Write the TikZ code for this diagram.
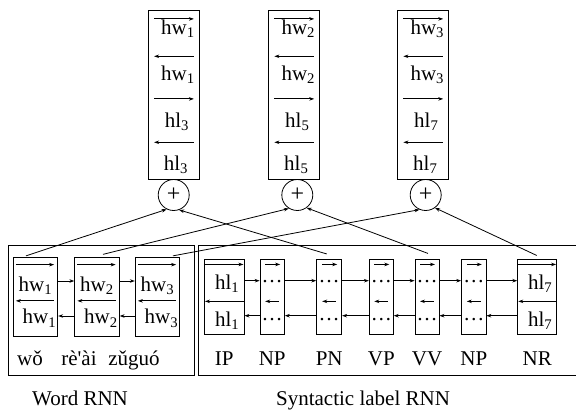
\documentclass[tikz,border=0pt]{standalone}
\usepackage{fontspec}
\setmainfont{Liberation Serif}[Ligatures=TeXOff]
\usetikzlibrary{arrows.meta,calc,positioning}
\tikzset{
  catbox/.style={draw, minimum width=51pt, minimum height=169pt, inner sep=0pt},
  sumnode/.style={draw, circle, minimum size=31pt, inner sep=0pt, font=\fontsize{24}{24}\selectfont},
  wcell/.style={draw, minimum width=44.5pt, minimum height=78.5pt, inner sep=0pt},
  lcell/.style={draw, minimum width=#1, minimum height=74.7pt, inner sep=0pt},
  txt/.style={anchor=base, inner sep=0pt},
}
\begin{document}
\begin{tikzpicture}[x=1pt, y=-1pt, line width=0.8pt,
    font=\fontsize{21}{23}\selectfont,
    >={Stealth[length=5pt,width=3.5pt]}]
    \useasboundingbox (0,0) rectangle (576,414);
    % Verkettete Vektoren oben
    \node[catbox] (cat1) at (174,94.5) {};
    \node[catbox] (cat2) at (294.3,94.5) {};
    \node[catbox] (cat3) at (423.3,94.5) {};
    \foreach \i/\w/\l in {1/1/3,2/2/5,3/3/7}{
      \draw[->] ($(cat\i.north west)+(6,9.3)$) -- ($(cat\i.north east)+(-6,9.3)$);
      \node[txt] (cat\i-a) at ($(cat\i.north)+(4,24.7)$) {hw\textsubscript{\w}};
      \draw[<-] ($(cat\i.north west)+(6,46.7)$) -- ($(cat\i.north east)+(-6,46.7)$);
      \node[txt] (cat\i-b) at ($(cat\i.north)+(4,70.7)$) {hw\textsubscript{\w}};
      \draw[->] ($(cat\i.north west)+(6,89.3)$) -- ($(cat\i.north east)+(-6,89.3)$);
      \node[txt] (cat\i-c) at ($(cat\i.north)+(3,117.7)$) {hl\textsubscript{\l}};
      \draw[<-] ($(cat\i.north west)+(6,132.7)$) -- ($(cat\i.north east)+(-6,132.7)$);
      \node[txt] (cat\i-d) at ($(cat\i.north)+(2,161)$) {hl\textsubscript{\l}};
    }
    % Summenknoten
    \node[sumnode] (sum1) at (173.7,195) {+};
    \node[sumnode] (sum2) at (297.3,195) {+};
    \node[sumnode] (sum3) at (425.7,195) {+};
    % Rahmen Word RNN und Syntactic label RNN
    \draw (8.3,245) rectangle (194.3,375);
    \draw (198.3,245) rectangle (580,375);
    % Word RNN
    \node[wcell] (w1) at (35.5,297) {};
    \node[wcell] (w2) at (97,297) {};
    \node[wcell] (w3) at (157.5,297) {};
    \foreach \i in {1,2,3}{
      \draw[->] ($(w\i.north west)+(3,7.3)$) -- ($(w\i.north east)+(-4,7.3)$);
      \node[txt] (w\i-a) at ($(w\i.north)+(0,34)$) {hw\textsubscript{\i}};
      \draw[<-] ($(w\i.north west)+(3,43.5)$) -- ($(w\i.north east)+(-4,43.5)$);
      \node[txt] (w\i-b) at ($(w\i.north)+(4,66.6)$) {hw\textsubscript{\i}};
    }
    \node[txt] (tw1) at (30,365) {wǒ};
    \node[txt] (tw2) at (79,365) {rè'ài};
    \node[txt] (tw3) at (134,365) {zǔguó};
    % Syntactic label RNN
    \node[lcell=39.7pt] (l1) at (224.2,296.7) {};
    \node[lcell=24.3pt] (l2) at (272.2,296.7) {};
    \node[lcell=25pt] (l3) at (329.2,296.7) {};
    \node[lcell=24pt] (l4) at (381.3,296.7) {};
    \node[lcell=24pt] (l5) at (427,296.7) {};
    \node[lcell=24.3pt] (l6) at (473.8,296.7) {};
    \node[lcell=39pt] (l7) at (537.2,296.7) {};
    \foreach \i in {1,7}{
      \draw[->] ($(l\i.north west)+(0,5.5)$) -- ($(l\i.north east)+(-1,5.5)$);
      \node[txt] (l\i-a) at ($(l\i.north)+(3,30.7)$) {hl\textsubscript{\i}};
      \draw[<-] ($(l\i.north west)+(1,42.4)$) -- ($(l\i.north east)+(0,42.4)$);
      \node[txt] (l\i-b) at ($(l\i.north)+(3,67.4)$) {hl\textsubscript{\i}};
    }
    \foreach \i in {2,...,6}{
      \draw[->] ($(l\i.north)+(-7,5.5)$) -- ($(l\i.north)+(8,5.5)$);
      \node[txt] (l\i-a) at ($(l\i.north)+(0,23.5)$) {\dots};
      \draw[<-] ($(l\i.north)+(-7,42.4)$) -- ($(l\i.north)+(7,42.4)$);
      \node[txt] (l\i-b) at ($(l\i.north)+(0,61.5)$) {\dots};
    }
    \foreach \i/\t in {1/IP,2/NP,3/PN,4/VP,5/VV,6/NP,7/NR}{
      \node[txt] (tl\i) at ($(l\i.south)+(0,31)$) {\t};
    }
    % Verbindungen zwischen den Zellen
    \foreach \a/\b in {w1/w2,w2/w3,l1/l2,l2/l3,l3/l4,l4/l5,l5/l6,l6/l7}{
      \draw[->] ($(\a.east)+(0,-16)$) -- ($(\b.west)+(0,-16)$);
      \draw[<-] ($(\a.east)+(0,19)$) -- ($(\b.west)+(0,19)$);
    }
    % Verbindungen zu den Summenknoten
    \draw[->] ($(w1.north)+(-9.5,-1.5)$) -- (sum1.244);
    \draw[->] ($(l3.north)+(-2.5,-5)$) -- (sum1.290);
    \draw[->] ($(w2.north)+(6,-3)$) -- (sum2.238);
    \draw[->] ($(l5.north)+(1,-5.5)$) -- (sum2.306);
    \draw[->] ($(w3.north)+(15.5,-1.5)$) -- (sum3.247);
    \draw[->] ($(l7.north)+(-0.5,-3.5)$) -- (sum3.306);
    % Beschriftungen
    \node[txt] (wrnn) at (80,405) {Word RNN};
    \node[txt] (lrnn) at (363,405) {Syntactic label RNN};
\end{tikzpicture}
\end{document}
